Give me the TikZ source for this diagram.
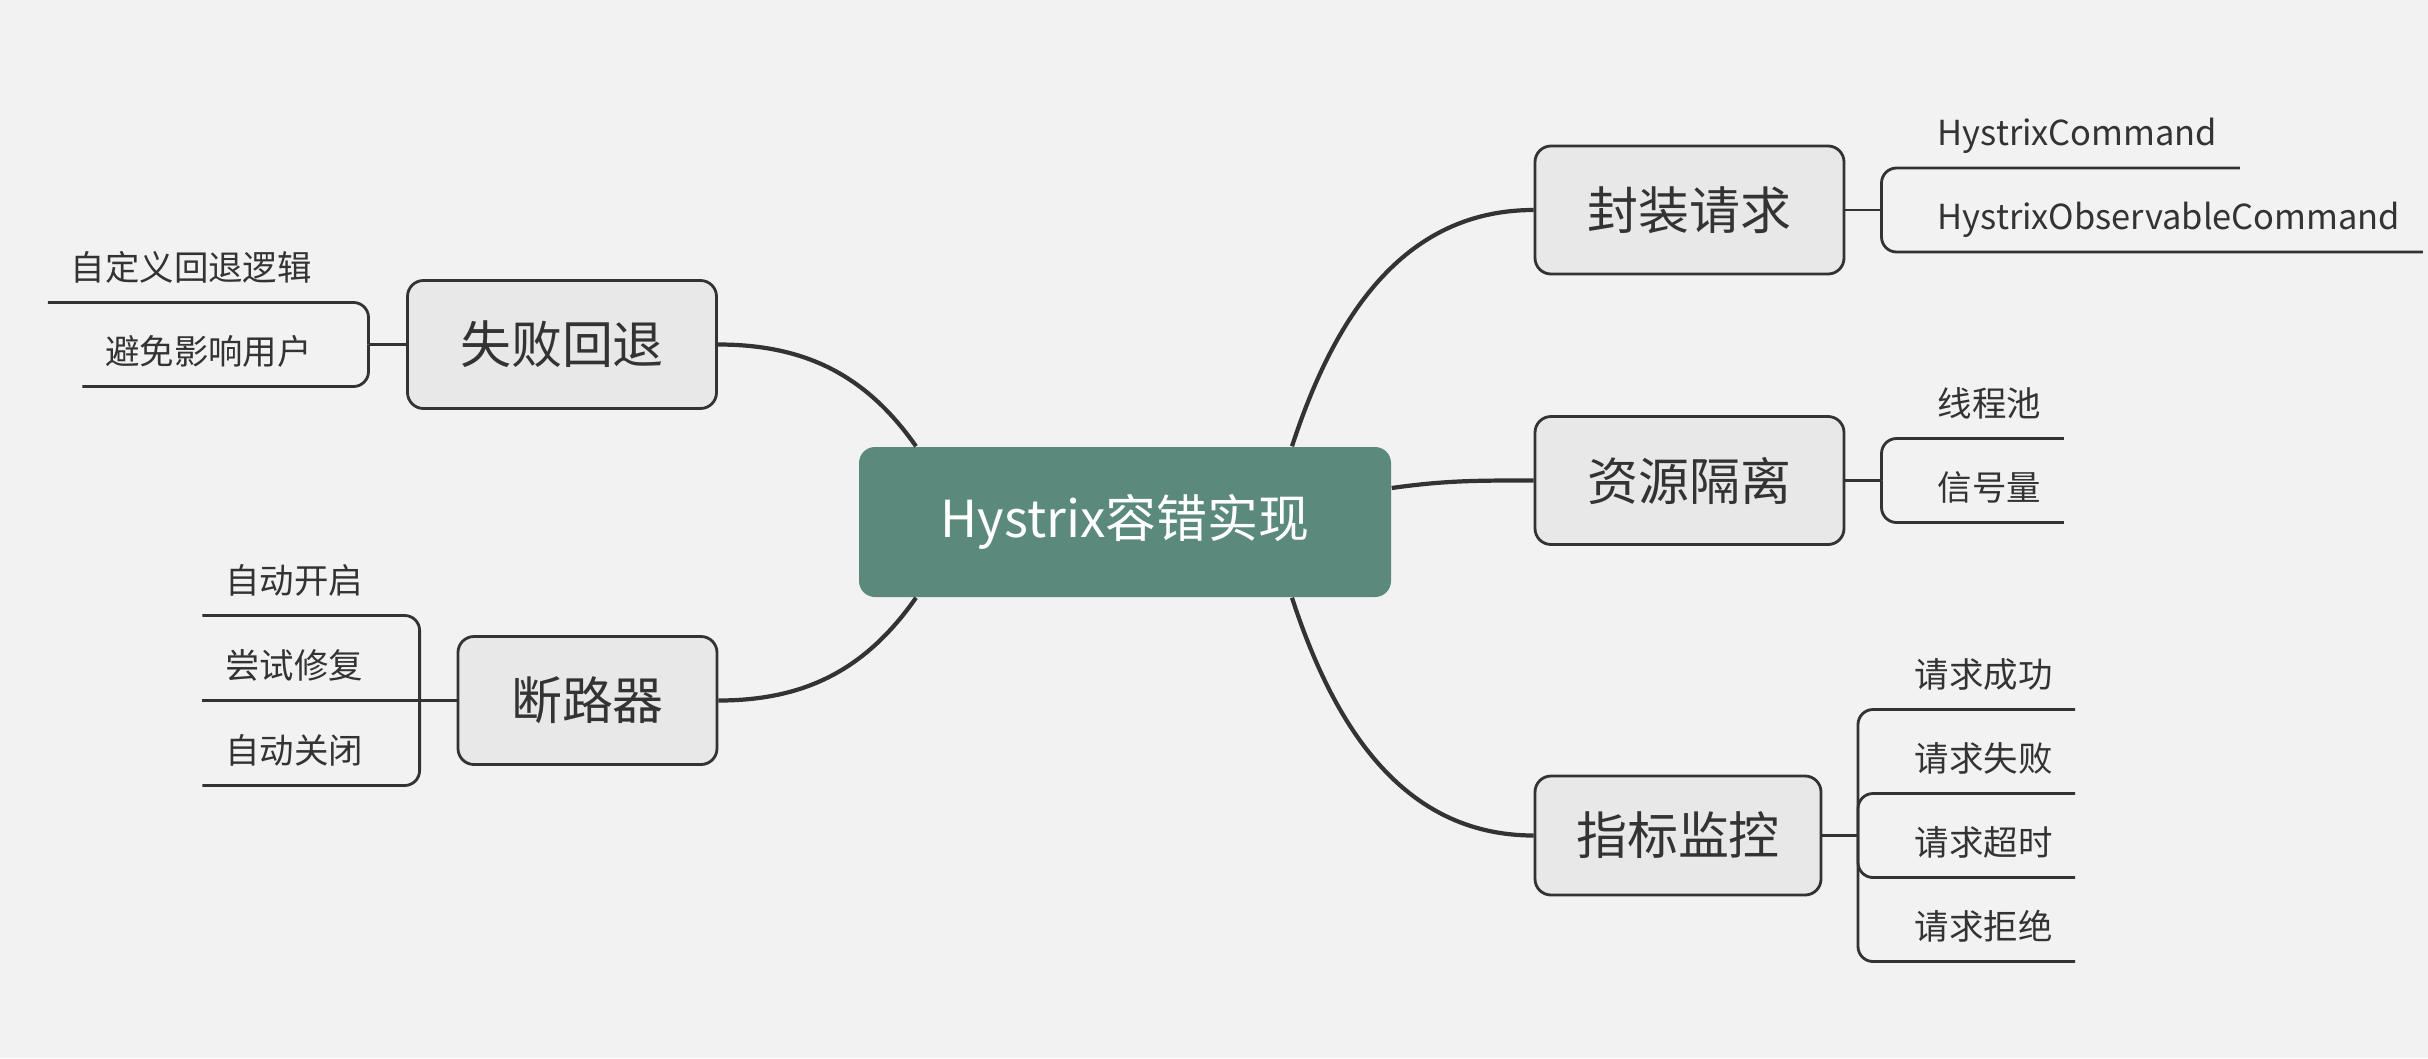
\documentclass[tikz,border=0pt]{standalone}
\usepackage{fontspec}
\setmainfont{Noto Sans CJK SC}
\definecolor{hubgreen}{HTML}{5B8A7D}
\definecolor{boxgray}{HTML}{E8E8E8}
\definecolor{inkgray}{HTML}{333333}
\definecolor{paper}{HTML}{F2F2F2}

\begin{document}
\begin{tikzpicture}[
    hub/.style={rounded corners=0.16cm, fill=hubgreen, text=white, minimum width=5.32cm,
                minimum height=1.5cm, font=\fontsize{14.5}{17}\selectfont},
    topic/.style={rounded corners=0.16cm, draw=inkgray, fill=boxgray, line width=0.8pt,
                  minimum width=3.09cm, minimum height=1.28cm, text=inkgray,
                  font=\fontsize{14.5}{17}\selectfont},
    leaf/.style={inner xsep=0.22cm, inner ysep=0.216cm, text height=0.3cm, text depth=0pt,
                 text=inkgray, font=\fontsize{9.8}{12}\selectfont},
    branch/.style={draw=inkgray, line width=1.2pt},
    twig/.style={draw=inkgray, line width=0.8pt, rounded corners=0.15cm}
]

% Background
\fill[paper] (0,0) rectangle (24.28,10.58);

% Central topic
\node[hub] (core) at (11.25,5.36) {Hystrix容错实现};

% Main topics
\node[topic] (wrap) at (16.895,8.48) {封装请求};
\node[topic] (isolate) at (16.895,5.775) {资源隔离};
\node[topic, minimum width=2.86cm, minimum height=1.19cm] (metrics) at (16.78,2.225) {指标监控};
\node[topic] (fallback) at (5.62,7.135) {失败回退};
\node[topic, minimum width=2.59cm] (breaker) at (5.875,3.575) {断路器};

% Branches from the centre
\draw[branch] ([xshift=1.67cm]core.north) to[out=72, in=180] (wrap.west);
\draw[branch] ([yshift=0.34cm]core.east) to[out=8, in=180] (isolate.west);
\draw[branch] ([xshift=1.67cm]core.south) to[out=-72, in=180] (metrics.west);
\draw[branch] ([xshift=-2.09cm]core.north) to[out=125, in=0] (fallback.east);
\draw[branch] ([xshift=-2.09cm]core.south) to[out=-125, in=0] (breaker.east);

% Junctions
\coordinate (wrapJ) at (18.815,8.48);
\coordinate (isolateJ) at (18.815,5.775);
\coordinate (metricsJ) at (18.58,2.225);
\coordinate (fallbackJ) at (3.685,7.135);
\coordinate (breakerJ) at (4.196,3.575);

% Sub-topics on the right
\node[leaf, anchor=south west] (cmd) at (19.15,8.90) {HystrixCommand};
\node[leaf, anchor=south west] (obsCmd) at (19.15,8.06) {HystrixObservableCommand};

\node[leaf, anchor=south west] (pool) at (19.15,6.195) {线程池};
\node[leaf, anchor=south west] (sema) at (19.15,5.355) {信号量};

\node[leaf, anchor=south west] (okReq) at (18.92,3.485) {请求成功};
\node[leaf, anchor=south west] (failReq) at (18.92,2.645) {请求失败};
\node[leaf, anchor=south west] (timeReq) at (18.92,1.805) {请求超时};
\node[leaf, anchor=south west] (rejReq) at (18.92,0.965) {请求拒绝};

% Sub-topics on the left
\node[leaf, anchor=south east] (custom) at (3.345,7.555) {自定义回退逻辑};
\node[leaf, anchor=south east] (shield) at (3.345,6.715) {避免影响用户};

\node[leaf, anchor=south east] (autoOpen) at (3.856,4.425) {自动开启};
\node[leaf, anchor=south east] (tryFix) at (3.856,3.575) {尝试修复};
\node[leaf, anchor=south east] (autoClose) at (3.856,2.725) {自动关闭};

% Links to sub-topics
\draw[twig] (wrap.east) -- (wrapJ);
\draw[twig] (wrapJ) |- (cmd.south east);
\draw[twig] (wrapJ) |- (obsCmd.south east);

\draw[twig] (isolate.east) -- (isolateJ);
\draw[twig] (isolateJ) |- (pool.south east);
\draw[twig] (isolateJ) |- (sema.south east);

\draw[twig] (metrics.east) -- (metricsJ);
\draw[twig] (metricsJ) |- (okReq.south east);
\draw[twig] (metricsJ) |- (failReq.south east);
\draw[twig] (metricsJ) |- (timeReq.south east);
\draw[twig] (metricsJ) |- (rejReq.south east);

\draw[twig] (fallback.west) -- (fallbackJ);
\draw[twig] (fallbackJ) |- (custom.south west);
\draw[twig] (fallbackJ) |- (shield.south west);

\draw[twig] (breaker.west) -- (breakerJ);
\draw[twig] (breakerJ) |- (autoOpen.south west);
\draw[twig] (breakerJ) -- (tryFix.south west);
\draw[twig] (breakerJ) |- (autoClose.south west);

\end{tikzpicture}
\end{document}
